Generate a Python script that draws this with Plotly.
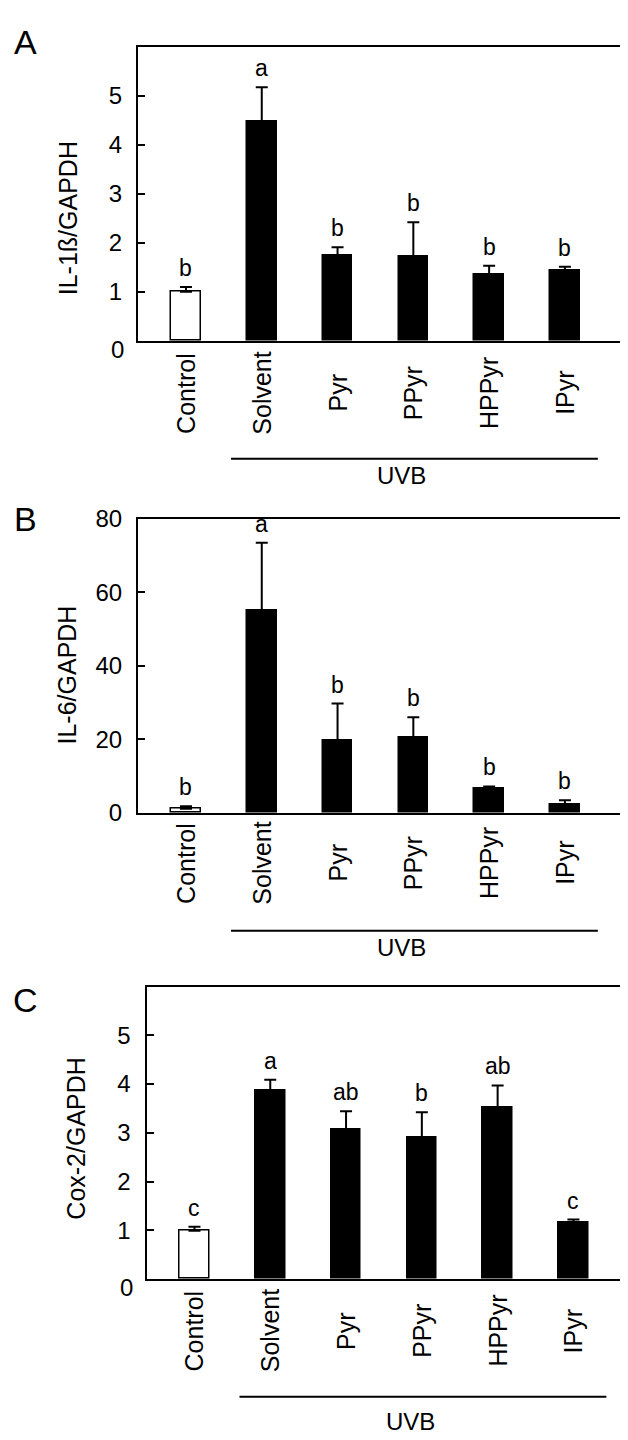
import plotly.graph_objects as go

W, H = 628, 1440

categories = ["Control", "Solvent", "Pyr", "PPyr", "HPPyr", "IPyr"]

il1b_mean = [1.00, 4.48, 1.75, 1.71, 1.35, 1.43]
il1b_err = [0.10, 0.69, 0.16, 0.71, 0.18, 0.08]
il1b_letters = ["b", "a", "b", "b", "b", "b"]

il6_mean = [1.1, 55.0, 19.7, 20.5, 6.5, 2.3]
il6_err = [0.7, 18.4, 10.0, 5.5, 0.7, 1.1]
il6_letters = ["b", "a", "b", "b", "b", "b"]

cox2_mean = [0.99, 3.86, 3.07, 2.91, 3.52, 1.15]
cox2_err = [0.08, 0.23, 0.37, 0.51, 0.45, 0.07]
cox2_letters = ["c", "a", "ab", "b", "ab", "c"]

ytitles = ["IL-1ß/GAPDH", "IL-6/GAPDH", "Cox-2/GAPDH"]
panel_labels = ["A", "B", "C"]
y_ticks = [[1, 2, 3, 4, 5], [0, 20, 40, 60, 80], [1, 2, 3, 4, 5]]
y_ranges = [[0, 6], [0, 80], [0, 6]]
group_label = "UVB"

FONT = "Liberation Sans, Arial, sans-serif"

def xp(px):
    return px / W

def yp(py):
    return 1 - py / H

# layout geometry (pixels)
panels = [
    dict(left=130, right=613, top=25, bottom=325, title_x=60, title_y=200, label=(17, 20),
         cat_y=378, line_y=445, uvb_y=462, zero_label=True),
    dict(left=130, right=613, top=506, bottom=806, title_x=59, title_y=666, label=(17, 507),
         cat_y=857, line_y=926, uvb_y=943, zero_label=False),
    dict(left=138.5, right=621.5, top=983, bottom=1281, title_x=68, title_y=1138, label=(17, 997),
         cat_y=1334, line_y=1401, uvb_y=1426, zero_label=True),
]

means = [il1b_mean, il6_mean, cox2_mean]
errs = [il1b_err, il6_err, cox2_err]
letters = [il1b_letters, il6_letters, cox2_letters]

fig = go.Figure()
annotations = []
shapes = []
xs = list(range(len(categories)))

for k, p in enumerate(panels):
    ax = "" if k == 0 else str(k + 1)
    xaxis_name = "xaxis" + ax
    yaxis_name = "yaxis" + ax
    colors = ["white"] + ["black"] * (len(categories) - 1)
    fig.add_trace(go.Bar(
        x=xs, y=means[k], width=0.39,
        marker=dict(color=colors, line=dict(color="black", width=1.5)),
        error_y=dict(type="data", array=errs[k], arrayminus=[0] * len(xs),
                     symmetric=False, color="black", thickness=2, width=6),
        xaxis="x" + ax, yaxis="y" + ax, showlegend=False,
    ))
    fig.update_layout(**{
        xaxis_name: dict(
            domain=[xp(p["left"]), xp(p["right"])], range=[-0.633, 5.74],
            showline=True, mirror=True, linecolor="black", linewidth=2,
            showticklabels=False, ticks="", showgrid=False, zeroline=False,
            anchor="y" + ax,
        ),
        yaxis_name: dict(
            domain=[yp(p["bottom"]), yp(p["top"])], range=y_ranges[k],
            showline=True, mirror=True, linecolor="black", linewidth=2,
            tickvals=y_ticks[k], ticktext=[str(v) for v in y_ticks[k]],
            ticks="inside", ticklen=7, tickwidth=1.5, tickcolor="black",
            tickfont=dict(family=FONT, size=24, color="black"),
            ticklabelstandoff=9,
            showgrid=False, zeroline=False, anchor="x" + ax,
        ),
    })
    if p["zero_label"]:
        annotations.append(dict(
            text="0", xref="paper", yref="y" + ax, x=xp(p["left"] - 12), y=0,
            xanchor="right", yanchor="middle", yshift=-9, showarrow=False,
            font=dict(family=FONT, size=24, color="black"),
        ))
    # y title
    annotations.append(dict(
        text=ytitles[k], xref="paper", yref="paper", x=xp(p["title_x"]),
        y=yp(p["title_y"]),
        textangle=-90, xanchor="center", yanchor="middle", showarrow=False,
        font=dict(family=FONT, size=25, color="black"),
    ))
    # panel label
    annotations.append(dict(
        text=panel_labels[k], xref="paper", yref="paper",
        x=xp(p["label"][0]), y=yp(p["label"][1]), xanchor="center", yanchor="middle",
        showarrow=False, font=dict(family=FONT, size=34, color="black"),
    ))
    # significance letters
    for i, (m, e, L) in enumerate(zip(means[k], errs[k], letters[k])):
        annotations.append(dict(
            text=L, xref="x" + ax, yref="y" + ax, x=i, y=m + e,
            xanchor="center", yanchor="bottom", yshift=4, showarrow=False,
            font=dict(family=FONT, size=23, color="black"),
        ))
    # category labels
    for i, c in enumerate(categories):
        annotations.append(dict(
            text=c, xref="x" + ax, yref="paper", x=i, y=yp(p["cat_y"]),
            textangle=-90, xanchor="center", yanchor="middle", showarrow=False,
            font=dict(family=FONT, size=25, color="black"),
        ))
    # UVB bracket line and label
    shapes.append(dict(
        type="line", xref="x" + ax, yref="paper", x0=0.594, x1=5.435,
        y0=yp(p["line_y"]), y1=yp(p["line_y"]), line=dict(color="black", width=2),
    ))
    annotations.append(dict(
        text=group_label, xref="x" + ax, yref="paper", x=2.85, y=yp(p["uvb_y"]),
        xanchor="center", yanchor="middle", showarrow=False,
        font=dict(family=FONT, size=24, color="black"),
    ))

fig.update_layout(
    width=W, height=H, margin=dict(l=0, r=0, t=0, b=0),
    paper_bgcolor="white", plot_bgcolor="white",
    annotations=annotations, shapes=shapes, bargap=0,
)

fig.write_html("out.html")
